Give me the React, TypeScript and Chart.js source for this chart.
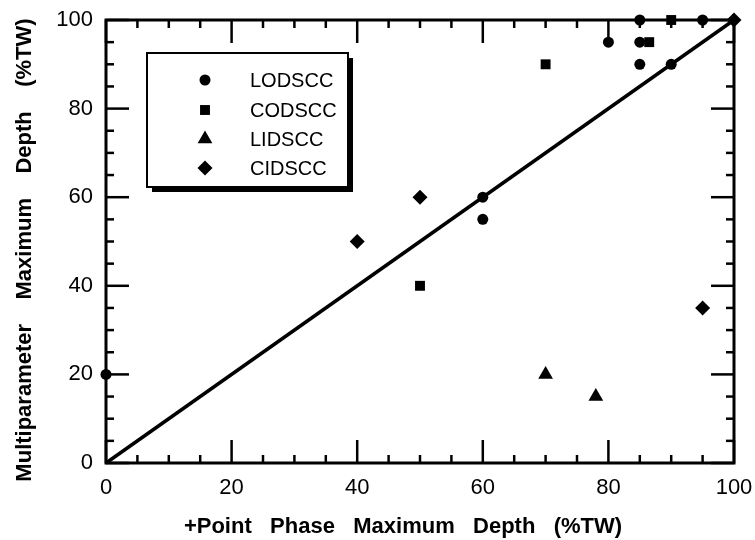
import React, { useEffect, useRef } from 'react';
import { Chart, registerables } from 'chart.js';

Chart.register(...registerables);

// ---- data ----
const tickValues = [0, 20, 40, 60, 80, 100];

const lineX = [0, 100];
const lineY = [0, 100];

const lodsccX = [0, 60, 60, 80, 85, 85, 85, 90, 95];
const lodsccY = [20, 60, 55, 95, 95, 90, 100, 90, 100];

const codsccX = [50, 70, 86.5, 90];
const codsccY = [40, 90, 95, 100];

const lidsccX = [70, 78];
const lidsccY = [20, 15];

const cidsccX = [40, 50, 95, 100];
const cidsccY = [50, 60, 35, 100];

const legendLabels = ['LODSCC', 'CODSCC', 'LIDSCC', 'CIDSCC'];
const xTitle = '+Point   Phase   Maximum   Depth   (%TW)';
const yTitle = 'Multiparameter    Maximum    Depth    (%TW)';

const FONT = "'Liberation Sans', Arial, Helvetica, sans-serif";

function toPts(xs: number[], ys: number[]) {
  return xs.map((x, i) => ({ x, y: ys[i] }));
}

function drawMarker(ctx: CanvasRenderingContext2D, kind: string, x: number, y: number, r: number) {
  ctx.beginPath();
  if (kind === 'circle') {
    ctx.arc(x, y, r, 0, Math.PI * 2);
  } else if (kind === 'rect') {
    const s = r * Math.SQRT1_2;
    ctx.rect(x - s, y - s, 2 * s, 2 * s);
  } else if (kind === 'triangle') {
    ctx.moveTo(x, y - r);
    ctx.lineTo(x + r * Math.sqrt(3) / 2, y + r / 2);
    ctx.lineTo(x - r * Math.sqrt(3) / 2, y + r / 2);
    ctx.closePath();
  } else {
    ctx.moveTo(x - r, y);
    ctx.lineTo(x, y - r);
    ctx.lineTo(x + r, y);
    ctx.lineTo(x, y + r);
    ctx.closePath();
  }
  ctx.fill();
}

const framePlugin = {
  id: 'frameTicks',
  beforeDatasetsDraw(chart: any) {
    const { ctx, chartArea: a, scales } = chart;
    const xs = scales.x;
    const ys = scales.y;
    ctx.save();
    ctx.strokeStyle = '#000';
    ctx.lineCap = 'butt';
    ctx.lineWidth = 2.5;
    const seg = (x1: number, y1: number, x2: number, y2: number) => {
      ctx.beginPath();
      ctx.moveTo(x1, y1);
      ctx.lineTo(x2, y2);
      ctx.stroke();
    };
    for (let v = 0; v <= 100; v += 5) {
      const len = tickValues.includes(v) ? 23 : 8;
      const px = xs.getPixelForValue(v);
      seg(px, a.bottom, px, a.bottom - len);
      seg(px, a.top, px, a.top + len);
      const py = ys.getPixelForValue(v);
      seg(a.left, py, a.left + len, py);
      seg(a.right, py, a.right - len, py);
    }
    ctx.lineWidth = 3;
    ctx.strokeRect(a.left, a.top, a.right - a.left, a.bottom - a.top);
    ctx.restore();
  },
};

const decorPlugin = {
  id: 'decor',
  afterDraw(chart: any) {
    const { ctx } = chart;
    ctx.save();
    // legend box with shadow
    const bx = 147, by = 53, bw = 201, bh = 134, sh = 5;
    ctx.fillStyle = '#000';
    ctx.fillRect(bx + sh, by + sh, bw, bh);
    ctx.fillStyle = '#fff';
    ctx.fillRect(bx, by, bw, bh);
    ctx.strokeStyle = '#000';
    ctx.lineWidth = 2;
    ctx.strokeRect(bx, by, bw, bh);

    const kinds = ['circle', 'rect', 'triangle', 'diamond'];
    const radii = [5.5, 7, 8.5, 7.5];
    const rows = [80, 110, 139, 168];
    ctx.fillStyle = '#000';
    ctx.font = `20px ${FONT}`;
    ctx.textBaseline = 'middle';
    ctx.textAlign = 'left';
    legendLabels.forEach((lab, i) => {
      drawMarker(ctx, kinds[i], 205, rows[i], radii[i]);
      ctx.fillText(lab, 250, rows[i] + 1);
    });

    // axis titles
    ctx.font = `bold 22px ${FONT}`;
    ctx.textAlign = 'center';
    ctx.textBaseline = 'alphabetic';
    ctx.fillText(xTitle, 403, 533);

    ctx.save();
    ctx.translate(31, 250);
    ctx.rotate(-Math.PI / 2);
    ctx.fillText(yTitle, 0, 0);
    ctx.restore();

    ctx.restore();
  },
};

export default function App() {
  const ref = useRef<HTMLCanvasElement>(null);

  useEffect(() => {
    if (!ref.current) return;
    const tickFont = { family: FONT, size: 22 };
    const chart = new Chart(ref.current, {
      type: 'scatter',
      data: {
        datasets: [
          {
            label: 'diag',
            data: toPts(lineX, lineY),
            showLine: true,
            borderColor: '#000',
            borderWidth: 3.5,
            pointRadius: 0,
            clip: false as any,
          } as any,
          {
            label: legendLabels[0],
            data: toPts(lodsccX, lodsccY),
            pointStyle: 'circle',
            pointRadius: 5.5,
            backgroundColor: '#000',
            borderColor: '#000',
            borderWidth: 0,
            clip: false as any,
          },
          {
            label: legendLabels[1],
            data: toPts(codsccX, codsccY),
            pointStyle: 'rect',
            pointRadius: 7,
            backgroundColor: '#000',
            borderColor: '#000',
            borderWidth: 0,
            clip: false as any,
          },
          {
            label: legendLabels[2],
            data: toPts(lidsccX, lidsccY),
            pointStyle: 'triangle',
            pointRadius: 8.5,
            backgroundColor: '#000',
            borderColor: '#000',
            borderWidth: 0,
            clip: false as any,
          },
          {
            label: legendLabels[3],
            data: toPts(cidsccX, cidsccY),
            pointStyle: 'rectRot',
            pointRadius: 7.5,
            backgroundColor: '#000',
            borderColor: '#000',
            borderWidth: 0,
            clip: false as any,
          },
        ],
      },
      options: {
        responsive: false,
        animation: false,
        layout: { autoPadding: false, padding: { top: 20, right: 21, left: 0, bottom: 0 } } as any,
        plugins: {
          legend: { display: false },
          tooltip: { enabled: false },
        },
        events: [],
        scales: {
          x: {
            type: 'linear',
            min: 0,
            max: 100,
            afterBuildTicks: (s: any) => {
              s.ticks = tickValues.map((v) => ({ value: v }));
            },
            ticks: { font: tickFont, color: '#000', padding: 0, maxRotation: 0 },
            grid: { display: false, drawTicks: true, tickLength: 12 },
            border: { display: false },
            afterFit: (s: any) => {
              s.height = 77;
            },
          },
          y: {
            type: 'linear',
            min: 0,
            max: 100,
            afterBuildTicks: (s: any) => {
              s.ticks = tickValues.map((v) => ({ value: v }));
            },
            ticks: { font: tickFont, color: '#000', padding: 0 },
            grid: { display: false, drawTicks: true, tickLength: 13 },
            border: { display: false },
            afterFit: (s: any) => {
              s.width = 106;
            },
          },
        },
      },
      plugins: [framePlugin, decorPlugin],
    });
    return () => chart.destroy();
  }, []);

  return (
    <div style={{ position: 'absolute', left: 0, top: 0, width: 755, height: 540, background: '#fff' }}>
      <canvas ref={ref} width={755} height={540} style={{ display: 'block' }} />
    </div>
  );
}
